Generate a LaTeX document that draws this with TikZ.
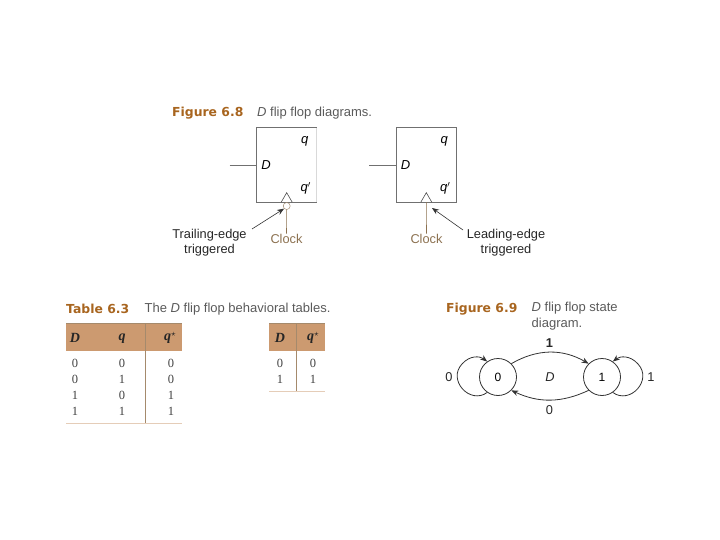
\documentclass[tikz,border=0pt]{standalone}
\usepackage{fontspec}
\setmainfont{Liberation Sans}
\newfontfamily\tabfont{Liberation Serif}
\newfontfamily\headfont{DejaVu Sans}
\usepackage{xcolor}
\usepackage{tikz}
\usetikzlibrary{calc,arrows.meta,positioning}
\definecolor{framec}{HTML}{707070}
\definecolor{headc}{HTML}{A8651F}
\definecolor{bandc}{HTML}{CC9A70}
\definecolor{rulec}{HTML}{A58A6C}
\definecolor{clockc}{HTML}{8C7150}
\definecolor{capc}{HTML}{5A5A5A}
\tikzset{
  ar/.style={-{Stealth[length=7pt,width=5.5pt]},line width=0.8pt,black!80},
  ln/.style={framec,line width=1pt},
  ffbox/.style={minimum width=60pt,minimum height=74pt,inner sep=0pt},
  lbl/.style={font=\fontsize{12.8}{15.5}\selectfont,black!85,align=center,inner sep=0pt},
  ital/.style={font=\fontsize{13}{14}\selectfont\itshape,inner sep=0pt},
  clk/.style={lbl,text=clockc},
  hd/.style={font=\fontsize{12.4}{14}\selectfont\headfont\bfseries,text=headc,inner sep=0pt,anchor=west},
  captxt/.style={font=\fontsize{13}{15.5}\selectfont,text=capc,inner sep=0pt,anchor=west,align=left},
  cell/.style={font=\fontsize{12.5}{14}\selectfont\tabfont,black!75,inner sep=0pt},
  thd/.style={font=\fontsize{14}{15}\selectfont\tabfont\bfseries\itshape,black!85,inner sep=0pt},
  st/.style={circle,draw=black!80,line width=0.8pt,minimum size=37pt,inner sep=0pt,font=\fontsize{12}{14}\selectfont}
}
\newcommand{\qstar}{q\raisebox{4pt}{\fontsize{9}{9}\selectfont$\star$}}
\begin{document}
\begin{tikzpicture}[x=1pt,y=-1pt]
\useasboundingbox (0,0) rectangle (720,540);
% Figure 6.8
\node[hd] (fighead) at (172,113.5) {Figure 6.8};
\node[captxt] (figcap) at (257,113.5) {\textit{D} flip flop diagrams.};
\node[ffbox] (ffa) at (286.7,165) {};
\node[ffbox] (ffb) at (426.3,165) {};
\draw[ln] (ffa.north east)--(ffa.north west)--(ffa.south west)--(ffa.south east);
\draw[ln,black!15] (ffa.north east)--(ffa.south east);
\draw[ln] (ffb.north west) rectangle (ffb.south east);
\foreach \f in {ffa,ffb}{
 \node[ital] (\f q) at ($(\f.center)+(18,-24)$) {\textit{q}};
 \node[ital] (\f n) at ($(\f.center)+(19,23.5)$) {\textit{q}$'$};
 \node[ital] (\f d) at ($(\f.west)+(9.5,0.5)$) {D};
 \coordinate (\f in) at ($(\f.west)+(-27,0.5)$);
 \draw[ln] (\f in)--($(\f.west)+(0,0.5)$);
 \coordinate (\f tip) at ($(\f.south)+(0,-9.5)$);
 \draw[black!70,line width=0.6pt] ($(\f.south)+(-5.5,0)$)--(\f tip)--($(\f.south)+(5.5,0)$);
}
\node[circle,draw=clockc!80,line width=0.5pt,minimum size=7pt,inner sep=0pt] (bub) at (286.7,206) {};
\node[clk] (clka) at (286.5,238.5) {Clock};
\node[clk] (clkb) at (426.5,238.5) {Clock};
\draw[clockc,line width=0.6pt] (bub.south)--(clka.north);
\draw[clockc,line width=0.6pt] (ffb.south)--(clkb.north);
\node[lbl] (trail) at (209.5,242.5) {Trailing-edge\\triggered};
\node[lbl] (lead) at (506,242.5) {Leading-edge\\triggered};
\coordinate (traila) at (252,229);
\coordinate (leada) at (463,230);
\coordinate (leadb) at (432,208);
\draw[ar,line width=0.6pt] (traila)--(bub.south west);
\draw[ar,line width=0.6pt] (leada)--(leadb);
% Table 6.3
\node[hd] (tabhead) at (66,309) {Table 6.3};
\node[captxt] (tabcap) at (144.5,309) {The \textit{D} flip flop behavioral tables.};
\fill[bandc] (66,323) rectangle (182,351);
\fill[bandc] (269,323) rectangle (325,351);
\draw[rulec,line width=1pt] (66,323.3)--(182,323.3);
\draw[rulec,line width=1pt] (269,323.3)--(325,323.3);
\draw[rulec,line width=0.8pt] (145,323)--(145,423);
\draw[rulec,line width=0.8pt] (296,323)--(296,391);
\draw[bandc!50,line width=0.7pt] (66,423.5)--(182,423.5);
\draw[bandc!50,line width=0.7pt] (269,391.5)--(325,391.5);
\node[thd] (hd) at (75,338) {D};
\node[thd] (hq) at (122,339) {q};
\node[thd] (hs) at (170,338) {\qstar};
\node[thd] (he) at (280,338) {D};
\node[thd] (hf) at (313,338) {\qstar};
\foreach \y/\a/\b/\c in {363/0/0/0,379/0/1/0,395/1/0/1,411/1/1/1}{
 \node[cell] (a\y) at (75,\y) {\a};
 \node[cell] (b\y) at (122,\y) {\b};
 \node[cell] (c\y) at (171,\y) {\c};
}
\foreach \y/\a in {363/0,379/1}{
 \node[cell] (e\y) at (280,\y) {\a};
 \node[cell] (f\y) at (313,\y) {\a};
}
% Figure 6.9
\node[hd] (stahead) at (446,309) {Figure 6.9};
\node[captxt,anchor=north west] (stacap) at (531.5,302) {\textit{D} flip flop state\\diagram.};
\node[st] (zero) at (498,377) {0};
\node[st] (one) at (602,377) {1};
\node[lbl] (dlab) at (550,377) {\textit{D}};
\node[lbl] (top) at (549.5,343) {\textbf{1}};
\node[lbl] (bot) at (549.5,410.5) {0};
\node[lbl] (lz) at (449,377) {0};
\node[lbl] (lo) at (651,377) {1};
\draw[ar] (zero.45) to[out=30,in=150] (one.135);
\draw[ar] (one.225) to[out=205,in=335] (zero.315);
\draw[ar] (zero.235) .. controls (470,405) and (447,380) .. (462,364) .. controls (470,355) and (480,356) .. (zero.125);
\draw[ar] (one.305) .. controls (630,405) and (653,380) .. (638,364) .. controls (630,355) and (620,356) .. (one.55);
\end{tikzpicture}
\end{document}
